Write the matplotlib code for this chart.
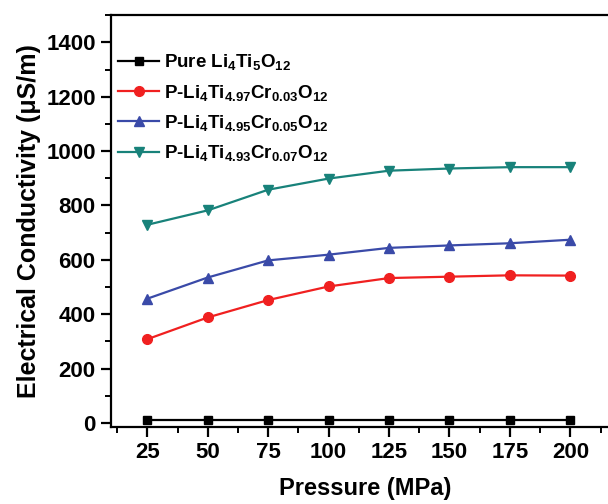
import matplotlib
matplotlib.use("Agg")
import matplotlib.pyplot as plt
from matplotlib.ticker import MultipleLocator

pressure = [25, 50, 75, 100, 125, 150, 175, 200]
pure = [10, 10, 10, 10, 10, 10, 10, 10]
cr003 = [308, 388, 452, 502, 533, 538, 543, 542]
cr005 = [457, 535, 598, 619, 644, 653, 661, 674]
cr007 = [729, 782, 858, 899, 928, 936, 941, 941]

labels = [r"Pure Li$\mathregular{_4}$Ti$\mathregular{_5}$O$\mathregular{_{12}}$",
          r"P-Li$\mathregular{_4}$Ti$\mathregular{_{4.97}}$Cr$\mathregular{_{0.03}}$O$\mathregular{_{12}}$",
          r"P-Li$\mathregular{_4}$Ti$\mathregular{_{4.95}}$Cr$\mathregular{_{0.05}}$O$\mathregular{_{12}}$",
          r"P-Li$\mathregular{_4}$Ti$\mathregular{_{4.93}}$Cr$\mathregular{_{0.07}}$O$\mathregular{_{12}}$"]

plt.rcParams['font.family'] = ['Liberation Sans', 'DejaVu Sans']
plt.rcParams['font.weight'] = 'bold'
plt.rcParams['mathtext.default'] = 'regular'

fig = plt.figure(figsize=(6.08, 5.04), dpi=100)
ax = fig.add_axes([0.1826, 0.1528, 0.835, 0.817])

ax.plot(pressure, pure, color='black', marker='s', ms=6, lw=1.6, label=labels[0])
ax.plot(pressure, cr003, color='#f02020', marker='o', ms=7, lw=1.6, label=labels[1])
ax.plot(pressure, cr005, color='#3a4aa8', marker='^', ms=7.5, lw=1.6, label=labels[2])
ax.plot(pressure, cr007, color='#18827a', marker='v', ms=7.5, lw=1.6, label=labels[3])

ax.set_xlim(10, 220)
ax.set_ylim(-15, 1500)
ax.xaxis.set_minor_locator(MultipleLocator(12.5))
ax.set_xticks(pressure)
ax.yaxis.set_minor_locator(MultipleLocator(100))
ax.set_yticks([0, 200, 400, 600, 800, 1000, 1200, 1400])

for s in ax.spines.values():
    s.set_linewidth(1.6)
ax.tick_params(which='major', direction='out', length=7, width=1.6, labelsize=16, pad=4)
ax.tick_params(which='minor', direction='out', length=4, width=1.4)
for t in ax.get_xticklabels() + ax.get_yticklabels():
    t.set_fontweight('bold')

ax.set_xlabel('Pressure (MPa)', fontsize=17, fontweight='bold', labelpad=10)
ax.set_ylabel('Electrical Conductivity (μS/m)', fontsize=18, fontweight='bold', labelpad=4)

leg = ax.legend(loc='upper left', bbox_to_anchor=(0.014, 0.91), frameon=False,
                borderpad=0, borderaxespad=0,
                handlelength=2.2, handletextpad=0.25, labelspacing=0.55,
                prop={'weight': 'bold', 'size': 13.5})

fig.savefig('out.png', dpi=100)
